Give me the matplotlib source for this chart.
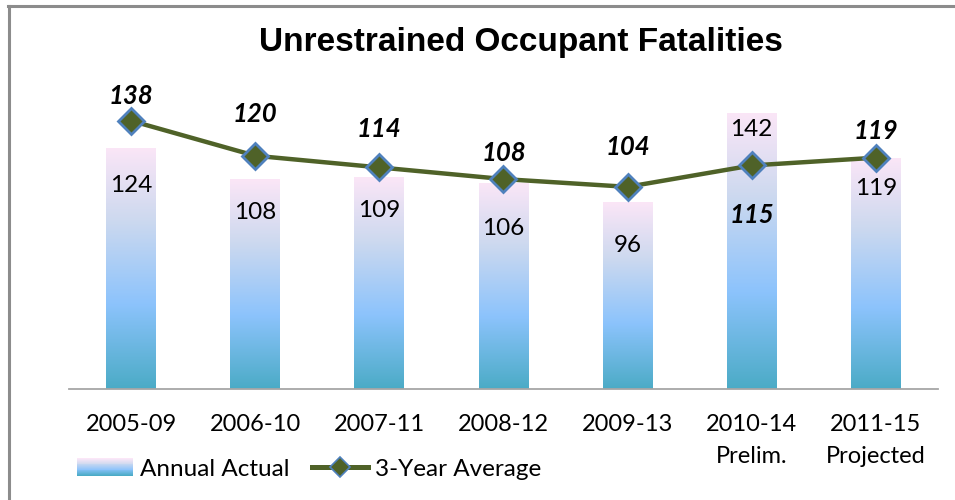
import numpy as np
import matplotlib
matplotlib.use("Agg")
import matplotlib.pyplot as plt
from matplotlib.colors import LinearSegmentedColormap
from matplotlib.patches import Rectangle
from matplotlib.lines import Line2D
from matplotlib.legend_handler import HandlerBase

# data
periods = ["2005-09", "2006-10", "2007-11", "2008-12", "2009-13", "2010-14\nPrelim.", "2011-15\nProjected"]
annual_actual = [124, 108, 109, 106, 96, 142, 119]
three_year_avg = [138, 120, 114, 108, 104, 115, 119]

# label offsets in points (bar labels below top, line labels above/below marker)
bar_lbl_off = [-27, -24, -24, -33, -31, -12, -22]
avg_lbl_off = [18, 30, 28, 19, 29, -36, 19]

grad = LinearSegmentedColormap.from_list(
    "bar", [(0.0, "#4babc6"), (0.35, "#8cc3fc"), (0.7, "#cdd9ef"), (1.0, "#fbe6f7")])

line_col = "#4f6228"
edge_col = "#4f81bd"

fig = plt.figure(figsize=(9.55, 5.0), dpi=100)
ax = fig.add_axes([0.0723, 0.222, 0.9097, 0.622])

x = np.arange(len(periods))
bw = 0.4
bars = ax.bar(x, annual_actual, width=bw, color="none", edgecolor="none", zorder=1)
ax.set_xlim(-0.5, len(periods) - 0.5)
ax.set_ylim(0, 160)

gimg = np.linspace(0, 1, 256).reshape(-1, 1)
for b in bars:
    x0, w, h = b.get_x(), b.get_width(), b.get_height()
    im = ax.imshow(gimg, cmap=grad, aspect="auto", origin="lower",
                   extent=[x0, x0 + w, 0, h], zorder=1)
    im.set_clip_path(b)

ax.plot(x, three_year_avg, color=line_col, lw=3.2, marker="D", ms=13,
        mfc=line_col, mec=edge_col, mew=2.0, zorder=3, solid_capstyle="round")

for xi, v, off in zip(x, annual_actual, bar_lbl_off):
    ax.annotate(str(v), (xi, v), xytext=(0, off), textcoords="offset points",
                ha="center", va="center", fontsize=17.5, family="Lato", zorder=4)
for xi, v, off in zip(x, three_year_avg, avg_lbl_off):
    ax.annotate(str(v), (xi, v), xytext=(0, off), textcoords="offset points",
                ha="center", va="center", fontsize=18.5, family="Lato",
                fontweight="bold", fontstyle="italic", zorder=4)

ax.set_xticks(x)
ax.set_xticklabels(periods, fontsize=17, family="Lato", linespacing=1.65, va="top")
ax.tick_params(axis="x", length=0, pad=18)
ax.set_yticks([])
for s in ["top", "right", "left"]:
    ax.spines[s].set_visible(False)
ax.spines["bottom"].set_color("#a6a6a6")
ax.spines["bottom"].set_linewidth(1.3)

fig.text(0.546, 0.915, "Unrestrained Occupant Fatalities", ha="center", va="center",
         fontsize=24, fontweight="bold", family="Liberation Sans")


class GradientHandler(HandlerBase):
    def create_artists(self, legend, orig, xd, yd, width, height, fontsize, trans):
        n = 20
        arts = []
        for i in range(n):
            r = Rectangle((xd, yd + height * i / n), width, height / n + 0.3,
                          facecolor=grad(i / (n - 1)), edgecolor="none", transform=trans)
            arts.append(r)
        return arts


bar_handle = Rectangle((0, 0), 1, 1)
line_handle = Line2D([], [], color=line_col, lw=3.6, marker="D", ms=10,
                     mfc=line_col, mec=edge_col, mew=1.2)
fig.legend([bar_handle, line_handle], ["Annual Actual", "3-Year Average"],
           handler_map={Rectangle: GradientHandler()}, loc="center left",
           bbox_to_anchor=(0.068, 0.062), ncol=2, frameon=False,
           prop={"family": "Lato", "size": 17.5}, handlelength=2.3,
           handleheight=0.7, handletextpad=0.3, columnspacing=0.9, borderpad=0)

# frame lines on left and top
fig.add_artist(Line2D([0.0095, 0.0095], [0, 0.988], color="#8c8c8c", lw=2.2,
                      transform=fig.transFigure))
fig.add_artist(Line2D([0.0085, 1.0], [0.988, 0.988], color="#8c8c8c", lw=2.2,
                      transform=fig.transFigure))

fig.savefig("out.png", dpi=100)
